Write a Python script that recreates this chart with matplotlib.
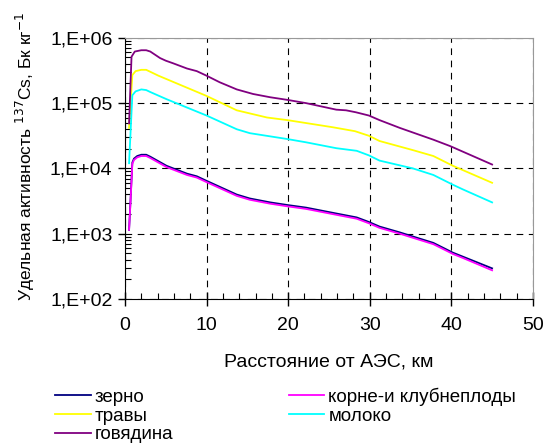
import matplotlib
matplotlib.use("Agg")
import matplotlib.pyplot as plt
import numpy as np
from matplotlib.ticker import FuncFormatter, LogLocator, MultipleLocator

plt.rcParams["font.family"] = ["Liberation Sans", "DejaVu Sans"]

# values (log10 of activity)
dist_beef = [0.5, 0.8, 1.2, 2.0, 2.6, 3.1, 3.7, 4.3, 5.0, 5.9, 7.6, 8.8, 10.0, 11.6, 13.7, 15.7, 17.8,
             19.9, 22.2, 25.9, 27.1, 28.3, 29.9, 31.2, 33.7, 37.8, 39.9, 45.0]
log_beef = [4.69, 5.71, 5.79, 5.81, 5.81, 5.79, 5.74, 5.69, 5.65, 5.61, 5.53, 5.49, 5.42, 5.32,
            5.21, 5.14, 5.09, 5.05, 5.00, 4.90, 4.89, 4.86, 4.81, 4.74, 4.62, 4.44, 4.34, 4.06]

dist_grass = [0.5, 0.9, 1.3, 2.0, 2.6, 3.1, 4.1, 10.0, 13.7, 17.4, 19.9, 25.5, 28.2, 29.9, 31.2,
              35.3, 37.8, 40.2, 45.0]
log_grass = [4.62, 5.43, 5.49, 5.51, 5.51, 5.48, 5.42, 5.11, 4.89, 4.78, 4.74, 4.63, 4.57, 4.50,
             4.42, 4.28, 4.19, 4.04, 3.78]

dist_milk = [0.5, 0.9, 1.3, 2.0, 2.6, 3.1, 5.1, 10.0, 13.7, 15.3, 19.9, 22.2, 25.9, 28.4, 29.9,
             31.2, 35.3, 37.8, 40.2, 41.4, 45.0]
log_milk = [4.08, 5.12, 5.18, 5.21, 5.20, 5.17, 5.06, 4.81, 4.60, 4.54, 4.45, 4.40, 4.31, 4.27,
            4.20, 4.12, 4.00, 3.90, 3.75, 3.68, 3.48]

dist_grain = [0.5, 0.7, 0.9, 1.1, 1.5, 2.0, 2.6, 3.1, 5.1, 7.6, 8.8, 10.0, 13.7, 15.3, 17.8,
              19.9, 22.2, 25.9, 28.4, 29.9, 31.2, 33.7, 37.8, 40.2, 41.4, 45.0]
log_grain = [3.06, 3.57, 4.09, 4.15, 4.19, 4.21, 4.21, 4.18, 4.04, 3.92, 3.88, 3.81, 3.60, 3.54,
             3.48, 3.44, 3.40, 3.31, 3.25, 3.18, 3.11, 3.02, 2.86, 2.71, 2.65, 2.47]
log_roots = [3.06, 3.55, 4.07, 4.13, 4.17, 4.19, 4.19, 4.16, 4.02, 3.90, 3.86, 3.79, 3.58, 3.52,
             3.46, 3.42, 3.38, 3.29, 3.23, 3.16, 3.09, 3.00, 2.84, 2.69, 2.63, 2.44]

# legend order as laid out (two columns, filled column by column)
labels = ["зерно", "травы", "говядина", "корне-и клубнеплоды", "молоко"]

fig = plt.figure(figsize=(5.58, 4.45), dpi=100)
ax = fig.add_axes([0.224, 0.328, 0.731, 0.587])

l_grain, = ax.plot(dist_grain, 10 ** np.array(log_grain), color="#000080", lw=1.3)
l_roots, = ax.plot(dist_grain, 10 ** np.array(log_roots), color="#ff00ff", lw=1.3)
l_grass, = ax.plot(dist_grass, 10 ** np.array(log_grass), color="#ffff00", lw=1.3)
l_milk, = ax.plot(dist_milk, 10 ** np.array(log_milk), color="#00ffff", lw=1.3)
l_beef, = ax.plot(dist_beef, 10 ** np.array(log_beef), color="#800080", lw=1.3)

ax.set_yscale("log")
ax.set_xlim(0, 50)
ax.set_ylim(1e2, 1e6)
ax.xaxis.set_major_locator(MultipleLocator(10))
ax.xaxis.set_minor_locator(MultipleLocator(2))
ax.yaxis.set_major_locator(LogLocator(base=10, numticks=10))
ax.yaxis.set_minor_locator(LogLocator(base=10, subs=np.arange(2, 10), numticks=10))
ax.yaxis.set_minor_formatter(FuncFormatter(lambda v, p: ""))
ax.yaxis.set_major_formatter(FuncFormatter(lambda v, p: "1,E+%02d" % round(np.log10(v))))

ax.tick_params(which="major", labelsize=14, color="black", width=1)
ax.tick_params(axis="x", which="major", direction="inout", length=10, pad=8)
ax.tick_params(axis="y", which="major", direction="out", length=5, pad=4)
ax.tick_params(which="minor", direction="in", length=4, width=0.8, color="black")

ax.grid(True, which="major", color="black", linestyle=(0, (6, 5)), lw=0.8)
for s in ["top", "right"]:
    ax.spines[s].set_color("#999999")
for s in ["left", "bottom"]:
    ax.spines[s].set_color("black")

ax.set_xlabel("Расстояние от АЭС, км", fontsize=14, labelpad=14)
ax.set_ylabel("Удельная активность $^{137}$Cs, Бк кг$^{-1}$", fontsize=12.5)
ax.yaxis.set_label_coords(-0.215, 0.545)

fig.legend([l_grain, l_grass, l_beef, l_roots, l_milk], labels,
           ncol=2, loc="upper left", bbox_to_anchor=(0.0986, 0.129), frameon=False,
           fontsize=13.5, handlelength=1.9, labelspacing=0.08, handletextpad=0.22,
           columnspacing=6.14, borderpad=0, borderaxespad=0)

fig.savefig("out.png", dpi=100)
